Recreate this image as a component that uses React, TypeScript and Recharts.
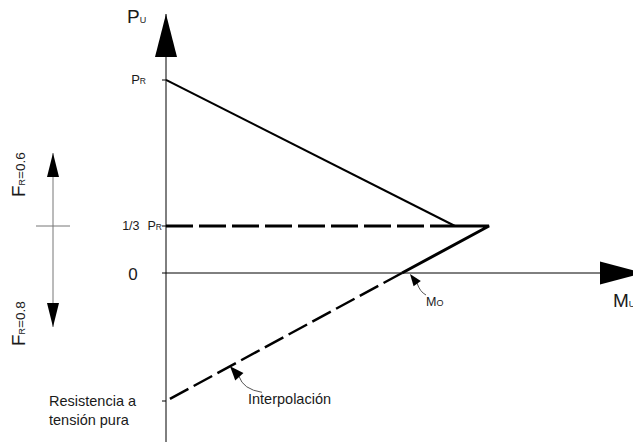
import React from "react";
import { ComposedChart, Line, XAxis, YAxis, ReferenceLine, ReferenceDot } from "recharts";

// Diagrama de interacción simplificado P-M (unidades de dibujo, no a escala)
const PR = 19.3;
const PR_THIRD = 4.7;
const P_TENSION = -12.8;
const M_NOSE = 32.3;
const M_KNEE = 28.9;
const M_O = 23.6;

const compressionBranch = [
  { m: 0, p: PR },
  { m: M_KNEE, p: PR_THIRD },
];
const thirdLevelDashed = [
  { m: 0, p: PR_THIRD },
  { m: M_KNEE, p: PR_THIRD },
];
const noseSegment = [
  { m: M_KNEE, p: PR_THIRD },
  { m: M_NOSE, p: PR_THIRD },
  { m: M_O, p: 0 },
];
const interpolationBranch = [
  { m: M_O, p: 0 },
  { m: 0, p: P_TENSION },
];

const pTicks = [PR, PR_THIRD, 0, P_TENSION];
const mDomain = [0, 46.7];
const pDomain = [-16.9, 25.9];

// indicador de F_R a la izquierda
const fArrowM = -11.3;
const fArrowP = [12.0, -5.4];
const fTickM = [-13.0, -9.6];

const mAxisArrowM = 43.4;
const interpPointerM = 6.4;
const interpPointerP = P_TENSION + ((PR_THIRD - P_TENSION) * interpPointerM) / M_NOSE;

const FONT = "'Liberation Sans', Arial, sans-serif";
const INK = "#1a1a1a";

function head(tx: number, ty: number, dx: number, dy: number, len: number, half: number) {
  const l = Math.hypot(dx, dy);
  const ux = dx / l;
  const uy = dy / l;
  const bx = tx - ux * len;
  const by = ty - uy * len;
  return `${tx},${ty} ${bx - uy * half},${by + ux * half} ${bx + uy * half},${by - ux * half}`;
}

function PTick(props: any) {
  const { x, y, payload } = props;
  const ax = x + 4;
  const v = payload.value;
  if (v === PR) {
    return (
      <text x={ax - 20} y={y + 4} textAnchor="end" fontFamily={FONT} fill={INK}>
        <tspan fontSize={13}>P</tspan>
        <tspan fontSize={8.5}>R</tspan>
      </text>
    );
  }
  if (v === PR_THIRD) {
    return (
      <text x={ax - 4} y={y + 4} textAnchor="end" fontFamily={FONT} fill={INK}>
        <tspan fontSize={12.5}>1/3</tspan>
        <tspan fontSize={12.5} dx={8}>P</tspan>
        <tspan fontSize={8.5}>R</tspan>
      </text>
    );
  }
  if (v === 0) {
    return (
      <text x={ax - 33} y={y + 7} textAnchor="middle" fontFamily={FONT} fontSize={17} fill={INK}>
        0
      </text>
    );
  }
  return (
    <text x={ax - 117} y={y + 5} fontFamily={FONT} fontSize={14.5} fill={INK}>
      <tspan x={ax - 117}>Resistencia a</tspan>
      <tspan x={ax - 117} dy={19}>tensión pura</tspan>
    </text>
  );
}

function PAxisArrow({ cx, cy }: any) {
  return (
    <g>
      <polygon points={`${cx},${cy} ${cx - 11},${cy + 43} ${cx + 11},${cy + 43}`} fill="#000" />
      <text x={cx - 39} y={cy + 9} fontFamily={FONT} fill={INK}>
        <tspan fontSize={19}>P</tspan>
        <tspan fontSize={9}>U</tspan>
      </text>
    </g>
  );
}

function MAxisArrow({ cx, cy }: any) {
  return (
    <g>
      <polygon points={`${cx},${cy - 11.5} ${cx + 43},${cy} ${cx},${cy + 11.5}`} fill="#000" />
      <text x={cx + 13} y={cy + 34} fontFamily={FONT} fill={INK}>
        <tspan fontSize={19}>M</tspan>
        <tspan fontSize={9}>U</tspan>
      </text>
    </g>
  );
}

function MoPointer({ cx, cy }: any) {
  const tx = cx + 8;
  const ty = cy + 1;
  return (
    <g>
      <path d={`M${tx + 7},${ty + 9} Q${tx + 10},${ty + 18} ${tx + 16},${ty + 21}`} stroke="#555" strokeWidth={1} fill="none" />
      <polygon points={head(tx, ty, -6, -8, 12, 4.5)} fill="#000" />
      <text x={cx + 24} y={cy + 33} fontFamily={FONT} fill={INK}>
        <tspan fontSize={12.5}>M</tspan>
        <tspan fontSize={9}>O</tspan>
      </text>
    </g>
  );
}

function InterpPointer({ cx, cy }: any) {
  return (
    <g>
      <path d={`M${cx + 9},${cy + 10} Q${cx + 13},${cy + 23} ${cx + 32},${cy + 26}`} stroke="#555" strokeWidth={1} fill="none" />
      <polygon points={head(cx, cy, -9, -10, 14, 5.5)} fill="#000" />
      <text x={cx + 18} y={cy + 38} fontFamily={FONT} fontSize={14.5} fill={INK}>
        Interpolación
      </text>
    </g>
  );
}

function FArrowUp({ cx, cy }: any) {
  const lx = cx - 28;
  const ly = cy + 44;
  return (
    <g>
      <polygon points={`${cx},${cy} ${cx - 6},${cy + 24} ${cx + 6},${cy + 24}`} fill="#000" />
      <text x={lx} y={ly} transform={`rotate(-90 ${lx} ${ly})`} fontFamily={FONT} fill={INK}>
        <tspan fontSize={19}>F</tspan>
        <tspan fontSize={9}>R</tspan>
        <tspan fontSize={13.5}>=0.6</tspan>
      </text>
    </g>
  );
}

function FArrowDown({ cx, cy }: any) {
  const lx = cx - 28;
  const ly = cy + 19;
  return (
    <g>
      <polygon points={`${cx},${cy} ${cx - 6},${cy - 24} ${cx + 6},${cy - 24}`} fill="#000" />
      <text x={lx} y={ly} transform={`rotate(-90 ${lx} ${ly})`} fontFamily={FONT} fill={INK}>
        <tspan fontSize={19}>F</tspan>
        <tspan fontSize={9}>R</tspan>
        <tspan fontSize={13.5}>=0.8</tspan>
      </text>
    </g>
  );
}

export default function App() {
  return (
    <div style={{ position: "absolute", left: 0, top: 0, width: 633, height: 442, background: "#fff" }}>
      <ComposedChart width={633} height={442} margin={{ top: 14, right: 0, bottom: 0, left: 66 }}>
        <XAxis dataKey="m" type="number" domain={mDomain} allowDataOverflow hide />
        <YAxis
          type="number"
          domain={pDomain}
          allowDataOverflow
          ticks={pTicks}
          interval={0}
          width={100}
          tickSize={4}
          tickMargin={0}
          axisLine={{ stroke: "#000", strokeWidth: 1 }}
          tickLine={{ stroke: "#000", strokeWidth: 1 }}
          tick={PTick}
        />
        <ReferenceLine y={0} stroke="#000" strokeWidth={1} />

        <Line data={thirdLevelDashed} dataKey="p" stroke="#000" strokeWidth={3} strokeDasharray="27 6" dot={false} isAnimationActive={false} />
        <Line data={compressionBranch} dataKey="p" stroke="#000" strokeWidth={2} dot={false} isAnimationActive={false} />
        <Line data={noseSegment} dataKey="p" stroke="#000" strokeWidth={3} dot={false} isAnimationActive={false} />
        <Line data={interpolationBranch} dataKey="p" stroke="#000" strokeWidth={2.5} strokeDasharray="21 6" dot={false} isAnimationActive={false} />

        <ReferenceDot x={0} y={pDomain[1]} ifOverflow="visible" shape={PAxisArrow} />
        <ReferenceDot x={mAxisArrowM} y={0} ifOverflow="visible" shape={MAxisArrow} />
        <ReferenceDot x={M_O} y={0} ifOverflow="visible" shape={MoPointer} />
        <ReferenceDot x={interpPointerM} y={interpPointerP} ifOverflow="visible" shape={InterpPointer} />

        <ReferenceLine
          segment={[{ x: fArrowM, y: fArrowP[0] }, { x: fArrowM, y: fArrowP[1] }]}
          ifOverflow="visible"
          stroke="#777"
          strokeWidth={1}
        />
        <ReferenceLine
          segment={[{ x: fTickM[0], y: PR_THIRD }, { x: fTickM[1], y: PR_THIRD }]}
          ifOverflow="visible"
          stroke="#777"
          strokeWidth={1}
        />
        <ReferenceDot x={fArrowM} y={fArrowP[0]} ifOverflow="visible" shape={FArrowUp} />
        <ReferenceDot x={fArrowM} y={fArrowP[1]} ifOverflow="visible" shape={FArrowDown} />
      </ComposedChart>
    </div>
  );
}
